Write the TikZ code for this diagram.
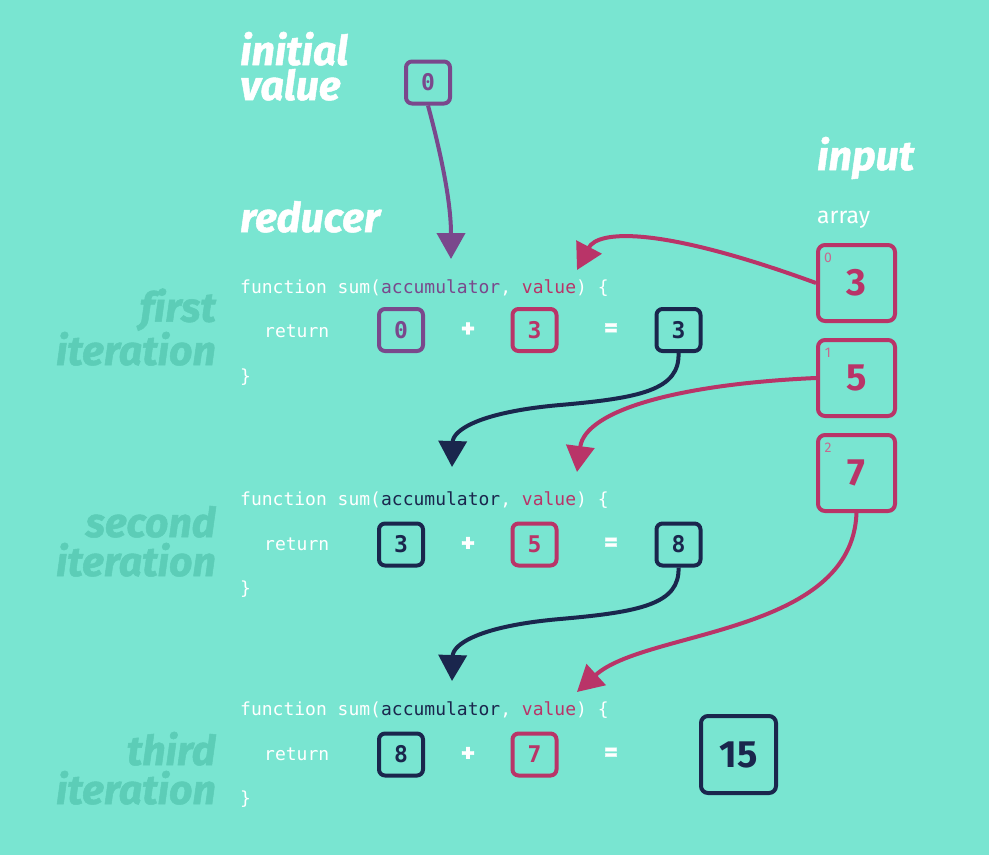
\documentclass[tikz,border=0pt]{standalone}
\usepackage{fontspec}
\setmainfont{Fira Sans}
\newfontfamily\codefont{DejaVu Sans Mono}
\newfontfamily\headfont[Ligatures=NoCommon]{Fira Sans}
\newfontfamily\heavyfont[Ligatures=NoCommon,FakeBold=1.2]{Fira Sans}
\usetikzlibrary{arrows.meta}
\definecolor{bg}{HTML}{79E5D1}
\definecolor{purp}{HTML}{7A488C}
\definecolor{mag}{HTML}{B93468}
\definecolor{navy}{HTML}{1A264D}
\definecolor{itercol}{HTML}{5CCDB7}
\definecolor{idxcol}{HTML}{C8698F}
\tikzset{
  heading/.style={anchor=base west,inner sep=0pt,text=white,font=\heavyfont\fontsize{41}{35}\selectfont\bfseries\itshape},
  iterlabel/.style={anchor=base east,inner sep=0pt,text=itercol,font=\heavyfont\fontsize{41}{39}\selectfont\bfseries\itshape},
  code/.style={anchor=base west,inner sep=0pt,text=white,font=\codefont\fontsize{18}{18}\selectfont},
  valbox/.style={draw=#1,text=#1,line width=4pt,rounded corners=6pt,minimum width=44pt,minimum height=42pt,inner sep=0pt,font=\codefont\fontsize{23}{23}\selectfont\bfseries},
  inbox/.style={draw=mag,text=mag,line width=4pt,rounded corners=7pt,minimum width=77pt,minimum height=76pt,inner sep=0pt,font=\headfont\fontsize{38}{38}\selectfont\bfseries},
  bigbox/.style={draw=navy,text=navy,line width=4pt,rounded corners=7pt,minimum width=75pt,minimum height=77pt,inner sep=0pt,font=\headfont\fontsize{38}{38}\selectfont\bfseries},
  idx/.style={anchor=center,inner sep=0pt,text=idxcol,font=\headfont\fontsize{14}{14}\selectfont},
  op/.style={inner sep=0pt,text=white,font=\heavyfont\fontsize{27}{27}\selectfont\bfseries},
  flow/.style={line width=4pt,draw=#1,-{Triangle[width=28pt,length=26pt,fill=#1]}},
}
\begin{document}
\begin{tikzpicture}[x=1pt,y=-1pt]
\useasboundingbox[fill=bg] (0,0) rectangle (989,855);

% headings
\node[heading,align=left] (hinit) at (240,100) {initial\\value};
\node[heading] (hred) at (240,232) {reducer};
\node[heading] (hinp) at (817,170) {input};
\node[anchor=base west,inner sep=0pt,text=white,font=\headfont\fontsize{23}{23}\selectfont] (harr) at (817,223) {array};

% initial value
\node[valbox=purp] (init) at (428,82.5) {0};

% input array
\node[inbox] (in0) at (856.5,283) {3};
\node[inbox] (in1) at (856.5,378) {5};
\node[inbox] (in2) at (856.5,473) {7};
\node[idx] (i0) at (828,258) {0};
\node[idx] (i1) at (828,353) {1};
\node[idx] (i2) at (828,448) {2};

% iteration labels
\node[iterlabel,align=right] (l1) at (216,365) {first\\iteration};
\node[iterlabel,align=right] (l2) at (216,576) {second\\iteration};
\node[iterlabel,align=right] (l3) at (216,804) {third\\iteration};

% row 1
\node[code] (f1) at (240,293) {function sum(\textcolor{purp}{accumulator}, \textcolor{mag}{value}) \{};
\node[code] (r1) at (264,337) {return};
\node[code] (c1) at (240,382) {\}};
\node[valbox=purp] (a1) at (401,330) {0};
\node[op] (p1) at (468,330) {+};
\node[valbox=mag] (v1) at (534.5,330) {3};
\node[op] (e1) at (611,330) {=};
\node[valbox=navy] (s1) at (678.5,330) {3};

% row 2
\node[code] (f2) at (240,505) {function sum(\textcolor{navy}{accumulator}, \textcolor{mag}{value}) \{};
\node[code] (r2) at (264,550) {return};
\node[code] (c2) at (240,594) {\}};
\node[valbox=navy] (a2) at (401,544.5) {3};
\node[op] (p2) at (468,544.5) {+};
\node[valbox=mag] (v2) at (534.5,544.5) {5};
\node[op] (e2) at (611,544.5) {=};
\node[valbox=navy] (s2) at (678.5,544.5) {8};

% row 3
\node[code] (f3) at (240,715) {function sum(\textcolor{navy}{accumulator}, \textcolor{mag}{value}) \{};
\node[code] (r3) at (264,760) {return};
\node[code] (c3) at (240,804) {\}};
\node[valbox=navy] (a3) at (401,754.5) {8};
\node[op] (p3) at (468,754.5) {+};
\node[valbox=mag] (v3) at (534.5,754.5) {7};
\node[op] (e3) at (611,754.5) {=};
\node[bigbox] (s3) at (738.5,754.5) {15};

% arrow targets
\coordinate (tInit) at (451,259);
\coordinate (tV1) at (577,270);
\coordinate (tA2) at (452,467);
\coordinate (tV2) at (577,472);
\coordinate (tA3) at (452,681);
\coordinate (tV3) at (577,692);

% arrows
\draw[flow=purp] (init.south) .. controls (440,150) and (451,200) .. (tInit);
\draw[flow=mag] (in0.west) .. controls (660,226) and (598,230) .. (tV1);
\draw[flow=mag] (in1.west) .. controls (680,384) and (585,410) .. (tV2);
\draw[flow=mag] (in2.south) .. controls (852,635) and (645,630) .. (tV3);
\draw[flow=navy] (s1.south) .. controls (680,390) and (640,398) .. (560,405) .. controls (480,412) and (453,430) .. (tA2);
\draw[flow=navy] (s2.south) .. controls (680,604) and (640,612) .. (560,619) .. controls (480,626) and (453,644) .. (tA3);
\end{tikzpicture}
\end{document}
